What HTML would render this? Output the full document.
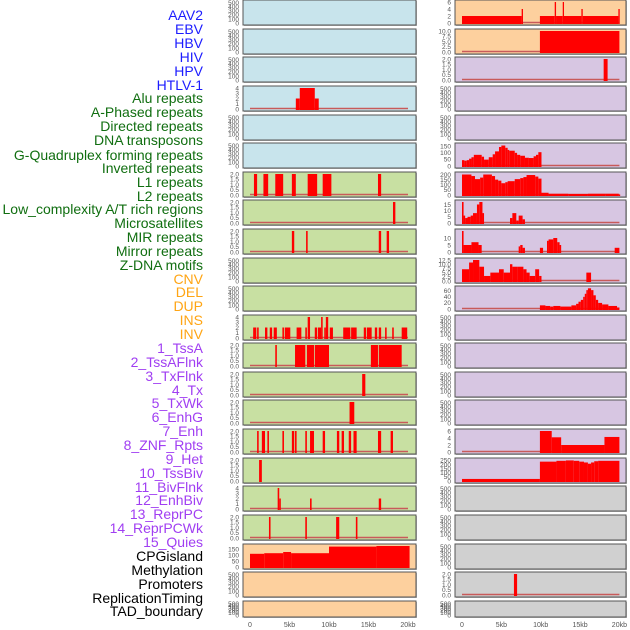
<!DOCTYPE html>
<html><head><meta charset="utf-8"><style>
html,body{margin:0;padding:0;background:#fff;width:630px;height:630px;overflow:hidden}
svg{display:block;font-family:"Liberation Sans",sans-serif}
</style></head><body>
<svg id="chart" width="630" height="630" viewBox="0 0 630 630"></svg>
<script>
// ---------- data ----------
const labelNames = ["AAV2","EBV","HBV","HIV","HPV","HTLV-1","Alu repeats","A-Phased repeats","Directed repeats","DNA transposons","G-Quadruplex forming repeats","Inverted repeats","L1 repeats","L2 repeats","Low_complexity A/T rich regions","Microsatellites","MIR repeats","Mirror repeats","Z-DNA motifs","CNV","DEL","DUP","INS","INV","1_TssA","2_TssAFlnk","3_TxFlnk","4_Tx","5_TxWk","6_EnhG","7_Enh","8_ZNF_Rpts","9_Het","10_TssBiv","11_BivFlnk","12_EnhBiv","13_ReprPC","14_ReprPCWk","15_Quies","CPGisland","Methylation","Promoters","ReplicationTiming","TAD_boundary"];
const labelGroups = ["v","v","v","v","v","v","r","r","r","r","r","r","r","r","r","r","r","r","r","s","s","s","s","s","c","c","c","c","c","c","c","c","c","c","c","c","c","c","c","o","o","o","o","o"];
const labelY = [15,29,43,57,71,85,98,112,126,140,155,168,182,196,209,223,237,251,265,279,292,306,320,334,348,362,376,390,403,417,431,445,459,473,487,500,514,528,542,556,570,584,598,611];
const xTickLabels = ["0","5kb","10kb","15kb","20kb"];
const xTickValues = [0,5,10,15,20];
const ticks500 = [0,100,200,300,400,500];
const ticks2 = [0,0.5,1,1.5,2];
const ticks4 = [0,1,2,3,4];

// segments: [startKb, endKb, value]
const aluSeg = [[5.8,6.3,2],[6.3,8.2,4],[8.2,8.7,2]];
const l1Seg = [[0.5,0.9,2],[1.7,2.3,2],[3.2,4.2,2],[5.3,5.8,2],[7.3,8.5,2],[9.2,10.3,2],[16.2,16.6,2]];
const lowSeg = [[18.1,18.4,2]];
const microSeg = [[5.3,5.6,2],[7.1,7.3,2],[16.3,16.6,2],[17.3,17.6,2]];
const insSeg = [[0.4,0.8,2],[0.9,1.1,2],[1.9,2.2,2],[2.5,2.8,2],[3.0,3.4,2],[4.1,4.3,2],[4.4,5.1,2],[5.9,6.5,2],[7.0,7.2,2],[7.3,7.6,4],[8.2,8.5,2],[8.6,9.0,2],[9.0,9.2,4],[9.4,9.6,2],[9.6,9.9,4],[10.1,10.5,2],[11.8,12.7,2],[12.8,13.5,2],[14.4,14.7,2],[14.8,15.4,2],[15.8,16.1,2],[16.3,16.6,2],[17.1,17.3,2],[18.0,18.2,2],[19.2,19.9,2]];
const tssaSeg = [[3.2,3.4,2],[5.7,7.0,2],[7.2,8.1,2],[8.2,10.0,2],[15.3,16.2,2],[16.3,19.2,2]];
const txflnkSeg = [[14.2,14.6,2]];
const txSeg = [[12.6,13.2,2]];
const txwkSeg = [[0.9,1.1,2],[1.5,1.9,2],[2.2,2.4,2],[4.1,4.3,2],[5.3,5.6,2],[5.7,5.9,2],[7.0,7.2,2],[7.6,8.1,2],[9.2,9.5,2],[11.0,11.3,2],[11.6,11.9,2],[12.5,12.8,2],[13.1,13.5,2],[16.2,16.6,2],[17.8,18.1,2]];
const enhgSeg = [[1.15,1.5,2]];
const enhSeg = [[3.5,3.7,4],[3.7,3.9,2],[7.6,7.8,2],[16.3,16.6,2]];
const znfSeg = [[2.4,2.6,2],[7.0,7.2,2],[10.9,11.3,2],[13.4,13.6,2]];
const cpgSeg = [[0,1.8,110],[1.8,4.2,115],[4.2,5.2,125],[5.2,10.0,115],[10.0,16.0,170],[16.0,20.2,175]];

const aav2Seg = [[0,7.58,2],[7.58,7.75,4],[9.9,11.78,2],[11.78,11.95,6],[11.95,12.8,2],[12.8,12.96,6],[12.96,15.17,2],[15.17,15.34,4],[15.34,19.87,2],[19.87,20.04,4]];
const ebvSeg = [[9.9,20.0,10]];
const hivSeg = [[18.0,18.5,2]];
const gquadSeg = [[0,0.3,44],[0.3,0.6,40],[0.6,0.9,44],[0.9,1.2,55],[1.2,1.5,66],[1.5,2.5,84],[2.5,2.8,70],[2.8,3.4,48],[3.4,3.9,66],[3.9,4.2,88],[4.2,4.7,110],[4.7,5.0,143],[5.0,5.5,154],[5.5,5.8,137],[5.8,6.0,121],[6.0,6.7,115],[6.7,7.0,99],[7.0,7.4,84],[7.4,8.0,77],[8.0,8.5,62],[8.5,9.1,60],[9.1,9.4,73],[9.4,9.7,84],[9.7,10.1,104]];
const invSeg = [[0,1.2,200],[1.2,1.65,185],[1.65,2.3,155],[2.3,2.7,170],[2.7,3.8,200],[3.8,4.2,185],[4.2,4.6,150],[4.6,5.0,140],[5.0,5.5,115],[5.5,5.8,125],[5.8,6.7,135],[6.7,7.4,155],[7.4,7.8,165],[7.8,8.2,175],[8.2,9.3,195],[9.3,9.7,180],[9.7,10.1,160],[10.1,11.0,22],[11.0,13.5,12],[13.5,16.0,10],[16.0,18.2,12],[18.2,19.9,12],[19.9,20.1,5]];
const l2Seg = [[0,0.2,17],[0.2,0.4,6],[0.4,0.7,4],[0.7,1.1,5],[1.1,1.4,6],[1.4,1.9,8],[1.9,2.2,15],[2.2,2.6,17],[2.6,2.8,8],[6.1,6.4,4],[6.4,6.9,8],[6.9,7.2,2],[7.2,7.7,6],[7.7,8.0,3]];
const mirSeg = [[0,0.2,15],[0.2,1.2,5],[1.2,2.1,7],[2.1,2.5,5],[7.2,7.4,4],[7.4,7.7,5],[7.7,8.0,3],[9.9,10.3,3],[10.8,11.0,8],[11.0,11.6,9],[11.6,12.1,10],[12.1,12.4,7],[12.4,12.6,5],[19.4,20.0,3]];
const mirrorSeg = [[0,0.9,7],[0.9,1.4,11],[1.4,2.2,12.5],[2.2,2.8,8.5],[2.8,3.6,3],[3.6,4.7,5],[4.7,5.3,7],[5.3,6.1,5],[6.1,6.4,10],[6.4,7.1,8.5],[7.1,7.8,8.5],[7.8,8.2,7],[8.2,8.6,5],[8.6,9.3,3],[9.3,9.8,7],[9.8,10.1,3],[15.8,16.4,5]];
const zdnaSeg = [[9.9,10.6,12],[10.6,11.2,10],[11.2,11.6,8],[11.6,12.5,10],[12.5,13.9,8],[13.9,14.5,12],[14.5,14.8,17],[14.8,15.1,24],[15.1,15.4,30],[15.4,15.6,40],[15.6,15.8,50],[15.8,16.0,62],[16.0,16.4,68],[16.4,16.7,62],[16.7,17.0,45],[17.0,17.3,30],[17.3,17.8,20],[17.8,18.6,15],[18.6,19.7,10],[19.7,20.0,5]];
const enhRSeg = [[9.9,11.4,6],[11.4,12.6,4.2],[12.6,18.1,2],[18.1,20.0,4.3]];
const hetSeg = [[0,9.9,25],[9.9,12.0,235],[12.0,13.2,245],[13.2,14.2,250],[14.2,14.9,245],[14.9,15.5,235],[15.5,16.0,225],[16.0,16.4,210],[16.4,16.8,225],[16.8,17.3,240],[17.3,20.0,245]];
const promSeg = [[6.6,7.0,2]];

// ---------- layout ----------
const rowTop = [0,29,57,86,115,143,172,200,229,258,286,315,343,372,400,429,458,486,515,544,572,601];
const rowH   = [25,25,25,25,25,25,25,25,25,25,25,25,25,25,25,25,25,25,25,25,25,16];
const BLUE="#c8e4ec", GREEN="#c8e0a2", ORANGE="#fdd09e", PURPLE="#d7c6e2", GRAY="#d0d0d0";
const leftPanels = [
 {n:"aav2-left",bg:BLUE,max:520,t:ticks500,s:[],b:false},
 {n:"ebv-left",bg:BLUE,max:520,t:ticks500,s:[],b:false},
 {n:"hbv-left",bg:BLUE,max:520,t:ticks500,s:[],b:false},
 {n:"alu-left",bg:BLUE,max:4,t:ticks4,s:aluSeg,b:true},
 {n:"hpv-left",bg:BLUE,max:520,t:ticks500,s:[],b:false},
 {n:"gquad-left",bg:BLUE,max:520,t:ticks500,s:[],b:false},
 {n:"l1-left",bg:GREEN,max:2,t:ticks2,s:l1Seg,b:true},
 {n:"lowcomp-left",bg:GREEN,max:2,t:ticks2,s:lowSeg,b:true},
 {n:"micro-left",bg:GREEN,max:2,t:ticks2,s:microSeg,b:true},
 {n:"zdna-left",bg:GREEN,max:520,t:ticks500,s:[],b:false},
 {n:"cnv-left",bg:GREEN,max:520,t:ticks500,s:[],b:false},
 {n:"ins-left",bg:GREEN,max:4,t:ticks4,s:insSeg,b:true},
 {n:"tssa-left",bg:GREEN,max:2,t:ticks2,s:tssaSeg,b:true},
 {n:"txflnk-left",bg:GREEN,max:2,t:ticks2,s:txflnkSeg,b:true},
 {n:"tx-left",bg:GREEN,max:2,t:ticks2,s:txSeg,b:true},
 {n:"txwk-left",bg:GREEN,max:2,t:ticks2,s:txwkSeg,b:true},
 {n:"enhg-left",bg:GREEN,max:2,t:ticks2,s:enhgSeg,b:false},
 {n:"enh-left",bg:GREEN,max:4,t:ticks4,s:enhSeg,b:true},
 {n:"znf-left",bg:GREEN,max:2,t:ticks2,s:znfSeg,b:true},
 {n:"cpg-left",bg:ORANGE,max:175,t:[0,50,100,150],s:cpgSeg,b:false},
 {n:"promoters-left",bg:ORANGE,max:520,t:ticks500,s:[],b:false},
 {n:"tad-left",bg:ORANGE,max:520,t:ticks500,s:[],b:false}
];
const rightPanels = [
 {n:"aav2-right",bg:ORANGE,max:6,t:[0,2,4,6],s:aav2Seg,b:true},
 {n:"ebv-right",bg:ORANGE,max:10,t:[0,2.5,5,7.5,10],s:ebvSeg,b:true,dec:1},
 {n:"hiv-right",bg:PURPLE,max:2,t:ticks2,s:hivSeg,b:true},
 {n:"hpv-right",bg:PURPLE,max:520,t:ticks500,s:[],b:false},
 {n:"dna-right",bg:PURPLE,max:520,t:ticks500,s:[],b:false},
 {n:"gquad-right",bg:PURPLE,max:158,t:[0,50,100,150],s:gquadSeg,b:true},
 {n:"inverted-right",bg:PURPLE,max:205,t:[0,50,100,150,200],s:invSeg,b:true},
 {n:"l2-right",bg:PURPLE,max:17,t:[0,5,10,15],s:l2Seg,b:true},
 {n:"mir-right",bg:PURPLE,max:15,t:[0,5,10],s:mirSeg,b:true},
 {n:"mirror-right",bg:PURPLE,max:12.5,t:[0,2.5,5,7.5,10,12.5],s:mirrorSeg,b:true,dec:1},
 {n:"zdna-right",bg:PURPLE,max:69,t:[0,20,40,60],s:zdnaSeg,b:true},
 {n:"del-right",bg:PURPLE,max:520,t:ticks500,s:[],b:false},
 {n:"dup-right",bg:PURPLE,max:520,t:ticks500,s:[],b:false},
 {n:"inv-right",bg:PURPLE,max:520,t:ticks500,s:[],b:false},
 {n:"tssaflnk-right",bg:PURPLE,max:520,t:ticks500,s:[],b:false},
 {n:"enh-right",bg:PURPLE,max:6,t:[0,2,4,6],s:enhRSeg,b:true},
 {n:"het-right",bg:PURPLE,max:255,t:[0,50,100,150,200,250],s:hetSeg,b:false},
 {n:"bivflnk-right",bg:GRAY,max:520,t:ticks500,s:[],b:false},
 {n:"reprpc-right",bg:GRAY,max:520,t:ticks500,s:[],b:false},
 {n:"methylation-right",bg:GRAY,max:520,t:ticks500,s:[],b:false},
 {n:"promoters-right",bg:GRAY,max:2,t:ticks2,s:promSeg,b:true},
 {n:"tad-right",bg:GRAY,max:520,t:ticks500,s:[],b:false}
];
const cols = [
 {x0:243,x1:416,z:250,k:7.9,panels:leftPanels,name:"left"},
 {x0:455,x1:626,z:462,k:7.87,panels:rightPanels,name:"right"}
];
const groupColors = {v:"#1c1cff",r:"#106e10",s:"#ffa514",c:"#a03ef2",o:"#000000"};

// ---------- draw ----------
const NS="http://www.w3.org/2000/svg";
const svg=document.getElementById("chart");
function mk(tag,attrs,parent){const e=document.createElementNS(NS,tag);for(const k in attrs)e.setAttribute(k,attrs[k]);(parent||svg).appendChild(e);return e;}

labelNames.forEach((t,i)=>{
  const e=mk("text",{x:203,y:labelY[i]+5,"text-anchor":"end","font-size":"14",fill:groupColors[labelGroups[i]]});
  e.textContent=t;
  
  
});

cols.forEach(col=>{
  const xs=kb=>col.z+kb*col.k;
  col.panels.forEach((p,i)=>{
    const top=rowTop[i], h=rowH[i];
    const g=mk("g",{});
    
    
    mk("rect",{x:col.x0+1,y:top+1,width:col.x1-col.x0,height:h,fill:"#b8b8b8"},g);
    mk("rect",{x:col.x0,y:top,width:col.x1-col.x0,height:h,fill:p.bg,stroke:"#555","stroke-width":"1"},g);
    const yb=top+h-2, yt=top+2;
    const ys=v=>yb-(v/p.max)*(yb-yt);
    if(p.b){
      const bl=mk("line",{x1:xs(0),x2:xs(20),y1:yb-0.5,y2:yb-0.5,stroke:"#c85a5a","stroke-width":"1.6"},g);
      
      
    }
    p.s.forEach(s=>{
      const r=mk("rect",{x:xs(s[0]),y:ys(s[2]),width:Math.max(1.2,xs(s[1])-xs(s[0])),height:yb-ys(s[2])+1,fill:"#ff0000"},g);
      
      
    });
    p.t.forEach(v=>{
      const lab = p.dec ? v.toFixed(1) : (p.max<=2.5 ? v.toFixed(1) : String(v));
      const tt=mk("text",{x:col.x0-4,y:ys(v)+2.3,"text-anchor":"end","font-size":"6.5",fill:"#555"},g);
      tt.textContent=lab;
      
      
    });
  });
  xTickValues.forEach((v,j)=>{
    const t=mk("text",{x:xs(v),y:627,"text-anchor":"middle","font-size":"7",fill:"#555"});
    t.textContent=xTickLabels[j];
    
    
  });
});
</script>
</body></html>
